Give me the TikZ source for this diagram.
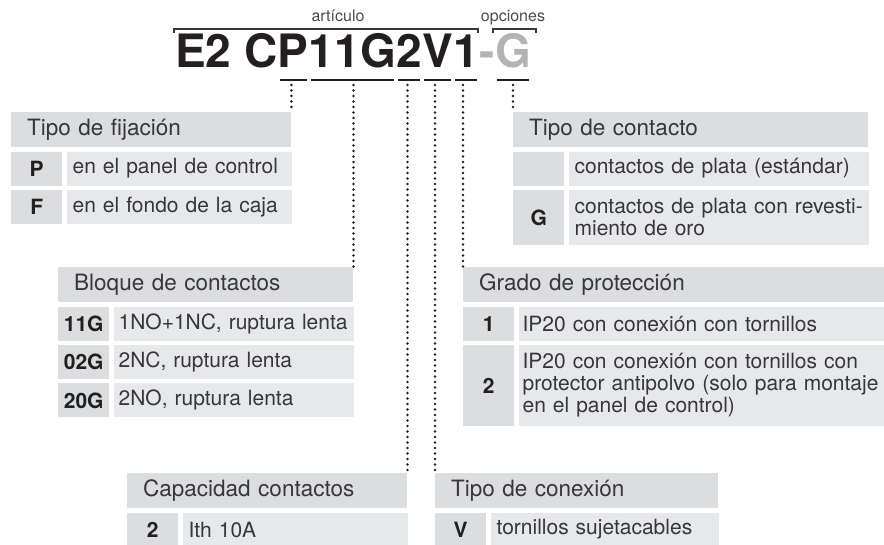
\documentclass[tikz,border=0pt]{standalone}
\usepackage{fontspec}
\setmainfont{TeX Gyre Heros}
\usetikzlibrary{positioning}
\definecolor{hdrgray}{RGB}{220,221,222}
\definecolor{valgray}{RGB}{231,232,233}
\definecolor{inkdark}{RGB}{35,31,32}
\definecolor{txtgray}{RGB}{55,55,57}
\definecolor{optgray}{RGB}{178,179,181}
\hyphenpenalty=10000
\exhyphenpenalty=10000

\begin{document}
\begin{tikzpicture}[
  x=1pt, y=-1pt,
  seg/.style={anchor=base west, inner sep=0pt, font=\fontsize{46}{46}\selectfont\bfseries, text=inkdark},
  uline/.style={line width=2.6pt, draw=inkdark, shorten <=2pt, shorten >=2pt},
  dotln/.style={line width=2.8pt, line cap=round, dash pattern=on 0pt off 5.5pt, draw=inkdark},
  brk/.style={line width=1.2pt, draw=txtgray},
  lbl/.style={anchor=base, inner sep=0pt, font=\fontsize{16}{16}\selectfont, text=txtgray!90},
  hdr/.style={fill=hdrgray, anchor=north west, minimum height=35pt, inner xsep=16pt, inner ysep=0pt,
    text width=#1, align=left, font=\fontsize{22.5}{24}\selectfont, text=txtgray},
  keyc/.style={fill=hdrgray, minimum width=51pt, inner sep=0pt, font=\fontsize{21}{22}\selectfont\bfseries, text=inkdark},
  valc/.style={fill=valgray, inner xsep=6pt, inner ysep=0pt, text width=#1, align=left,
    font=\fontsize{21}{22}\selectfont, text=txtgray}
]
\useasboundingbox (0,0) rectangle (884,545);

% code of the article
\node[seg] (segE) at (175,68) {E2 C};
\node[seg, base right=0pt of segE] (segP) {P};
\node[seg, base right=0pt of segP] (seg11G) {11G};
\node[seg, base right=0pt of seg11G] (seg2) {2};
\node[seg, base right=0pt of seg2] (segV) {V};
\node[seg, base right=0pt of segV] (seg1) {1};
\node[seg, text=optgray, base right=0pt of seg1] (segDash) {-};
\node[seg, text=optgray, base right=0pt of segDash] (segG) {G};
\foreach \s in {P,11G,2,V,1,G}
  \draw[uline] ([yshift=-12pt]seg\s.base west) -- ([yshift=-12pt]seg\s.base east);

% brackets
\draw[brk] (174,33) -- (174,29) -- (478,29) -- (478,33);
\draw[brk] (493,33) -- (493,29) -- (536,29) -- (536,33);
\node[lbl] (artLbl) at (338,22) {artículo};
\node[lbl] (optLbl) at (513,22) {opciones};

% Tipo de fijacion
\node[hdr=248pt] (fijHdr) at (11,112) {Tipo de fijación};
\node[keyc, minimum height=34pt, below right=4pt and 0pt of fijHdr.south west] (fijP) {P};
\node[valc=213pt, minimum height=34pt, right=4pt of fijP] (fijPv) {en el panel de control};
\node[keyc, minimum height=34pt, below=4pt of fijP] (fijF) {F};
\node[valc=213pt, minimum height=34pt, right=4pt of fijF] (fijFv) {en el fondo de la caja};

% Tipo de contacto
\node[hdr=323pt] (ctoHdr) at (513,112) {Tipo de contacto};
\node[keyc, minimum height=34pt, below right=4pt and 0pt of ctoHdr.south west] (ctoS) {};
\node[valc=294pt, inner xsep=3pt, minimum height=34pt, right=4pt of ctoS] (ctoSv) {\hspace*{3pt}contactos de plata (estándar)};
\node[keyc, minimum height=55pt, below=4pt of ctoS] (ctoG) {G};
\node[valc=294pt, inner xsep=3pt, minimum height=55pt, right=4pt of ctoG] (ctoGv) {\hspace*{3pt}contactos de plata con revesti-\\\hspace*{3pt}miento de oro};

% Bloque de contactos
\node[hdr=263pt] (bloHdr) at (58,267) {Bloque de contactos};
\node[keyc, minimum height=34pt, below right=4pt and 0pt of bloHdr.south west] (bloA) {11G};
\node[valc=230pt, inner xsep=5pt, minimum height=34pt, right=4pt of bloA] (bloAv) {1NO+1NC, ruptura lenta};
\node[keyc, minimum height=34pt, below=4pt of bloA] (bloB) {02G};
\node[valc=230pt, inner xsep=5pt, minimum height=34pt, right=4pt of bloB] (bloBv) {2NC, ruptura lenta};
\node[keyc, minimum height=34pt, below=4pt of bloB] (bloC) {20G};
\node[valc=230pt, inner xsep=5pt, minimum height=34pt, right=4pt of bloC] (bloCv) {2NO, ruptura lenta};

% Grado de proteccion
\node[hdr=389pt] (graHdr) at (463,267) {Grado de protección};
\node[keyc, minimum height=34pt, below right=4pt and 0pt of graHdr.south west] (graA) {1};
\node[valc=359pt, inner xsep=4pt, minimum height=34pt, right=4pt of graA] (graAv) {IP20 con conexión con tornillos};
\node[keyc, minimum height=81pt, below=4pt of graA] (graB) {2};
\node[valc=359pt, inner xsep=4pt, minimum height=81pt, right=4pt of graB] (graBv) {IP20 con conexión con tornillos con\\protector antipolvo (solo para montaje\\en el panel de control)};

% Capacidad contactos
\node[hdr=248pt] (capHdr) at (127,473) {Capacidad contactos};
\node[keyc, minimum height=34pt, below right=4pt and 0pt of capHdr.south west] (capA) {2};
\node[valc=213pt, minimum height=34pt, right=4pt of capA] (capAv) {Ith 10A};

% Tipo de conexion
\node[hdr=251pt] (conHdr) at (435,473) {Tipo de conexión};
\node[keyc, minimum height=34pt, below right=4pt and 0pt of conHdr.south west] (conA) {V};
\node[valc=216pt, minimum height=34pt, right=4pt of conA] (conAv) {tornillos sujetacables};

% dotted leaders
\foreach \s/\t in {P/fijHdr.north east, 11G/bloHdr.north east, 2/capHdr.north east,
                   V/conHdr.north west, 1/graHdr.north west, G/ctoHdr.north west} {
  \coordinate (top\s) at ([yshift=-17pt]seg\s.base);
  \draw[dotln] (\t |- top\s) -- (\t);
}
\end{tikzpicture}
\end{document}
